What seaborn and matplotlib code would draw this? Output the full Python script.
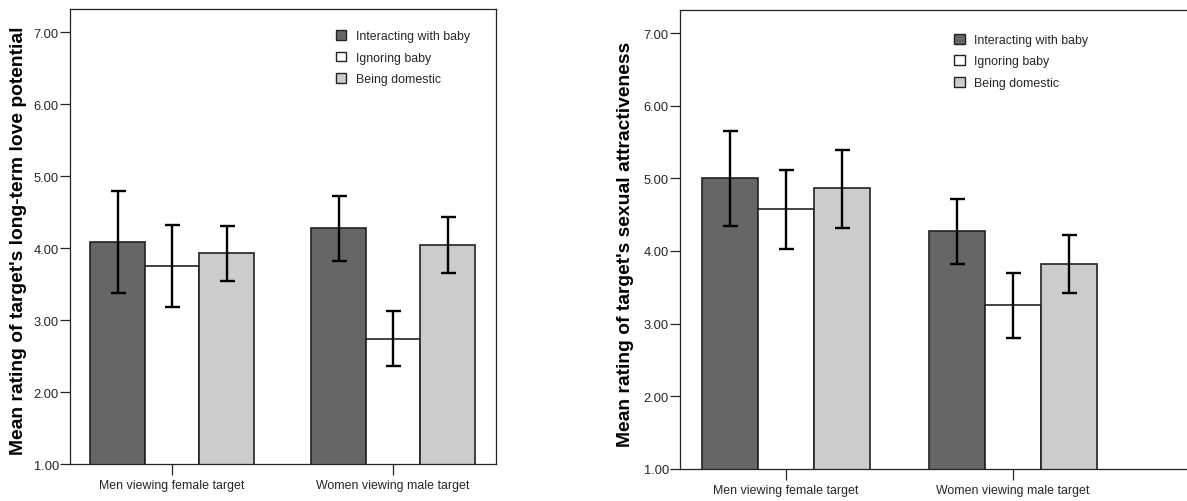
import numpy as np
import pandas as pd
import matplotlib
matplotlib.use('Agg')
import matplotlib.pyplot as plt
from matplotlib.patches import Patch
import seaborn as sns

sns.set_style('ticks')
plt.rcParams['font.family'] = ['Liberation Sans', 'DejaVu Sans']

groups = ['Men viewing female target', 'Women viewing male target']
conditions = ['Interacting with baby', 'Ignoring baby', 'Being domestic']
colors = ['#666666', '#ffffff', '#cccccc']

# Panel 1: long-term love potential (per condition: [men, women])
love_interact = [4.09, 4.28]
love_ignore = [3.75, 2.74]
love_domestic = [3.93, 4.05]
love_upper = [[4.79, 4.73], [4.32, 3.12], [4.31, 4.43]]
love_lower = [[3.38, 3.82], [3.18, 2.36], [3.54, 3.66]]

# Panel 2: sexual attractiveness
sex_interact = [5.00, 4.27]
sex_ignore = [4.58, 3.26]
sex_domestic = [4.86, 3.82]
sex_upper = [[5.65, 4.72], [5.12, 3.70], [5.39, 4.22]]
sex_lower = [[4.35, 3.82], [4.03, 2.80], [4.32, 3.42]]


def make_df(a, b, c):
    rows = []
    for cond, vals in zip(conditions, [a, b, c]):
        for g, v in zip(groups, vals):
            rows.append({'Group': g, 'Condition': cond, 'Mean': v})
    return pd.DataFrame(rows)


def draw_panel(ax, df, upper, lower, ylabel, xlim, leg_anchor, label_x):
    sns.barplot(data=df, x='Group', y='Mean', hue='Condition', order=groups,
                hue_order=conditions, palette=colors, width=0.74,
                edgecolor='#222222', linewidth=1.2, saturation=1,
                errorbar=None, legend=False, ax=ax)
    bar_conts = list(ax.containers)
    for i, cont in enumerate(bar_conts):
        xs = [b.get_x() + b.get_width() / 2 for b in cont]
        ys = [b.get_height() for b in cont]
        lo = np.array(ys) - np.array(lower[i])
        hi = np.array(upper[i]) - np.array(ys)
        ax.errorbar(xs, ys, yerr=[lo, hi], fmt='none', ecolor='black',
                    elinewidth=1.7, capsize=5.4, capthick=1.7, zorder=5)
    ax.set_ylim(1, 7.32)
    ax.set_xlim(*xlim)
    ax.set_yticks(range(1, 8))
    ax.set_yticklabels(['%.2f' % v for v in range(1, 8)], fontsize=9.3)
    ax.tick_params(axis='x', labelsize=8.9, length=8, width=0.9, pad=3)
    ax.tick_params(axis='y', length=7, width=0.9, pad=1)
    ax.set_xlabel('')
    ax.set_ylabel(ylabel, fontsize=13.9, fontweight='bold', color='black')
    ax.yaxis.set_label_coords(label_x, 0.492)
    for s in ax.spines.values():
        s.set_linewidth(0.9)
        s.set_color('#222222')
    handles = [Patch(facecolor=c, edgecolor='#222222', linewidth=1.0) for c in colors]
    ax.legend(handles, conditions, loc='upper left', bbox_to_anchor=leg_anchor,
              frameon=False, fontsize=8.9, handlelength=0.85, handleheight=0.85,
              handletextpad=0.8, labelspacing=0.75, borderpad=0, borderaxespad=0)


fig = plt.figure(figsize=(11.87, 5.02), dpi=100)
ax1 = fig.add_axes([0.059, 0.0737, 0.359, 0.906])
ax2 = fig.add_axes([0.5729, 0.0643, 0.438, 0.914])

draw_panel(ax1, make_df(love_interact, love_ignore, love_domestic), love_upper, love_lower,
           "Mean rating of target's long-term love potential", (-0.4615, 1.466),
           (0.624, 0.954), -0.10)
draw_panel(ax2, make_df(sex_interact, sex_ignore, sex_domestic), sex_upper, sex_lower,
           "Mean rating of target's sexual attractiveness", (-0.467, 1.824),
           (0.527, 0.948), -0.088)

fig.savefig('out.png', dpi=100)
